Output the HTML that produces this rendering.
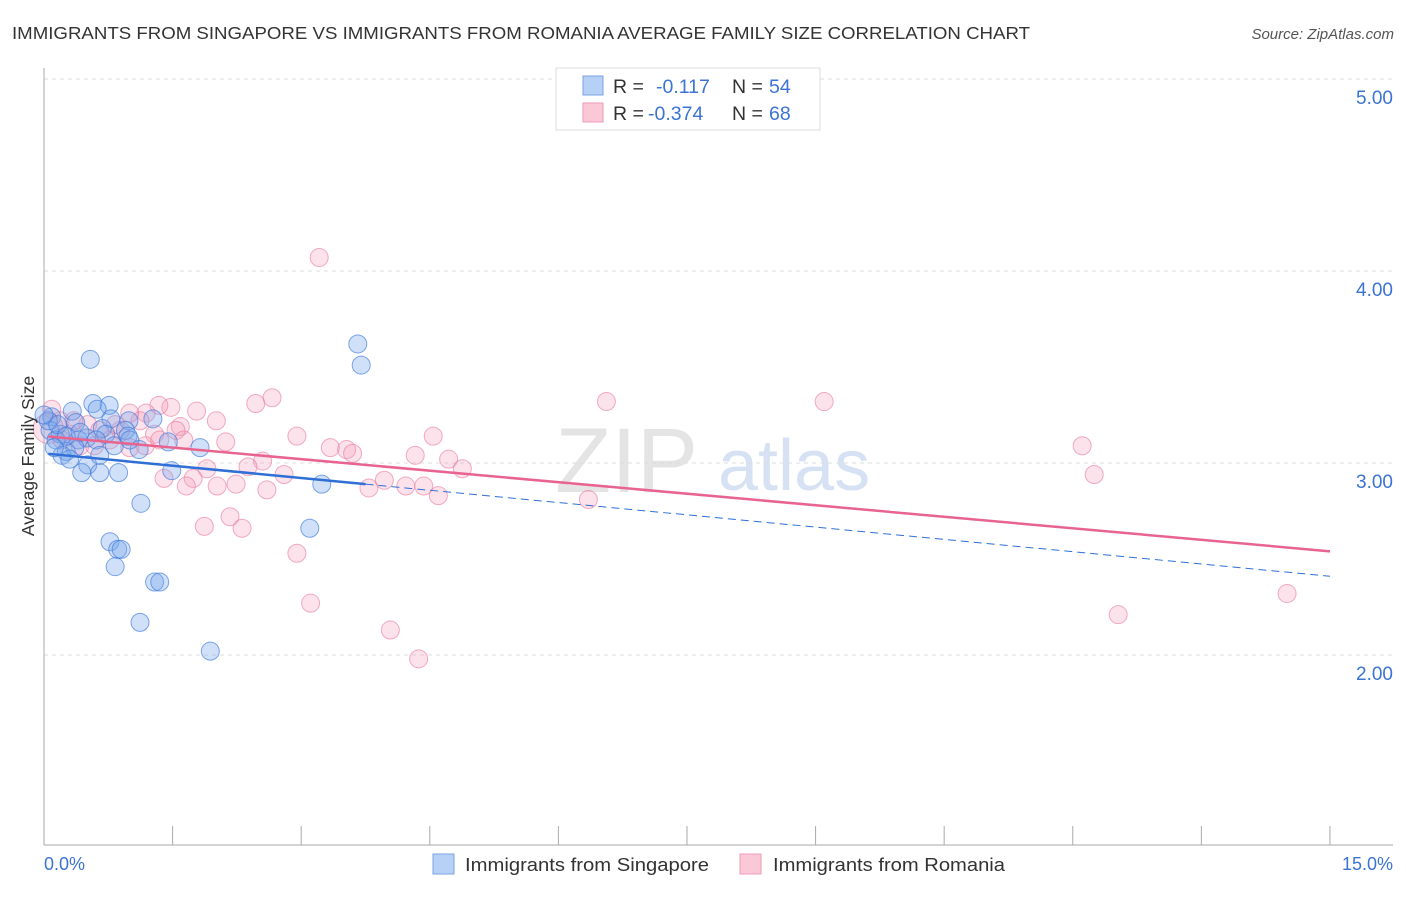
<!DOCTYPE html>
<html><head><meta charset="utf-8"><style>
body{margin:0;background:#fff;font-family:"Liberation Sans",sans-serif;}
svg text{font-family:"Liberation Sans",sans-serif;}
</style></head><body>
<svg id="chart" width="1406" height="892" xmlns="http://www.w3.org/2000/svg">
<text x="12" y="39" font-size="17.5" fill="#333" textLength="1018" lengthAdjust="spacingAndGlyphs">IMMIGRANTS FROM SINGAPORE VS IMMIGRANTS FROM ROMANIA AVERAGE FAMILY SIZE CORRELATION CHART</text>
<text x="1394" y="39" font-size="15" fill="#555" font-style="italic" text-anchor="end">Source: ZipAtlas.com</text>
<text x="555" y="492" font-size="92" fill="#e4e4e4" font-family="Liberation Serif">ZIP</text>
<text x="718" y="490" font-size="72" fill="#d6e2f3">atlas</text>
<g id="grid"></g>
<g id="axes"></g>
<g id="pts"></g>
<g id="lines"></g>
<text transform="translate(34,456) rotate(-90)" font-size="17.5" fill="#333" text-anchor="middle">Average Family Size</text>
<g>
<rect x="556" y="68" width="264" height="62" fill="#fff" stroke="#ddd"/>
<rect x="583" y="76" width="20" height="19" fill="#b7d0f5" stroke="#7aa3e6"/>
<text x="613" y="93" font-size="19.5" fill="#333">R = </text><text x="656" y="93" font-size="19.5" fill="#3b74d4">-0.117</text>
<text x="732" y="93" font-size="19.5" fill="#333">N = </text><text x="769" y="93" font-size="19.5" fill="#3b74d4">54</text>
<rect x="583" y="103" width="20" height="19" fill="#fbc8d7" stroke="#ef9ab5"/>
<text x="613" y="120" font-size="19.5" fill="#333">R = </text><text x="648" y="120" font-size="19.5" fill="#3b74d4">-0.374</text>
<text x="732" y="120" font-size="19.5" fill="#333">N = </text><text x="769" y="120" font-size="19.5" fill="#3b74d4">68</text>
</g>
<g>
<rect x="433" y="854" width="21" height="20" fill="#b7d0f5" stroke="#7aa3e6"/>
<text x="465" y="871" font-size="18.5" fill="#333" textLength="244" lengthAdjust="spacingAndGlyphs">Immigrants from Singapore</text>
<rect x="740" y="854" width="21" height="20" fill="#fbc8d7" stroke="#ef9ab5"/>
<text x="773" y="871" font-size="18.5" fill="#333" textLength="232" lengthAdjust="spacingAndGlyphs">Immigrants from Romania</text>
</g>
</svg>
<script>
const yTicks=[2,3,4,5];
const yTickLabels=["2.00","3.00","4.00","5.00"];
const xTicks=[0,1.5,3,4.5,6,7.5,9,10.5,12,13.5,15];
const xEndLabels=["0.0%","15.0%"];
const blueX=[0.54,3.66,3.70,0.57,0.76,0.62,0.33,0.78,1.27,0.99,0.37,0.09,0.07,0.19,0.95,0.68,0.40,0.50,1.45,1.82,1.11,0.26,0.36,0.21,0.30,0.51,0.44,0.65,0.87,1.49,3.24,1.13,3.10,0.77,0.86,0.90,0.83,1.29,1.35,1.12,1.94,0.14,0.05,0.72,0.61,0.16,0.26,0.42,0.82,0.98,0.12,0.0,0.65,1.0];
const blueY=[3.54,3.62,3.51,3.31,3.30,3.28,3.27,3.23,3.23,3.22,3.21,3.24,3.17,3.15,3.17,3.18,3.12,3.13,3.11,3.08,3.07,3.06,3.08,3.04,3.02,2.99,2.95,2.95,2.95,2.96,2.89,2.79,2.66,2.59,2.55,2.55,2.46,2.38,2.38,2.17,2.02,3.12,3.22,3.15,3.12,3.20,3.14,3.16,3.09,3.14,3.08,3.25,3.04,3.12];
const pinkX=[3.21,6.56,9.10,2.66,2.47,1.48,1.34,1.78,1.19,2.01,1.59,1.54,0.19,0.51,0.09,2.95,4.54,2.12,3.34,3.53,3.60,4.33,4.72,4.88,2.55,2.38,1.90,2.80,1.40,1.74,1.66,2.02,2.24,2.60,3.79,3.97,4.22,4.43,4.60,6.35,12.11,12.25,1.87,2.17,2.31,2.95,3.11,4.04,4.37,12.53,14.50,0.89,1.00,0.77,0.65,0.30,0.42,1.12,1.29,1.00,0.59,0.21,1.18,0.83,0.35,1.35,1.63,0.05];
const pinkY=[4.07,3.32,3.32,3.34,3.31,3.29,3.30,3.27,3.26,3.22,3.19,3.17,3.22,3.20,3.28,3.14,3.14,3.11,3.08,3.07,3.05,3.04,3.02,2.97,3.01,2.98,2.97,2.94,2.92,2.92,2.88,2.88,2.89,2.86,2.87,2.91,2.88,2.88,2.83,2.81,3.09,2.94,2.67,2.72,2.66,2.53,2.27,2.13,1.98,2.21,2.32,3.17,3.08,3.12,3.17,3.15,3.09,3.22,3.15,3.26,3.09,3.12,3.09,3.20,3.22,3.12,3.12,3.18];
const blueTrend=[3.05,2.41];
const pinkTrend=[3.14,2.54];
const blueSolidEnd=3.75;

const NS="http://www.w3.org/2000/svg";
const X=v=>44+v*85.73;
const Y=v=>463-(v-3)*192;
function mk(tag,attrs,parent){const e=document.createElementNS(NS,tag);for(const k in attrs)e.setAttribute(k,attrs[k]);parent.appendChild(e);return e;}
const grid=document.getElementById('grid'),axes=document.getElementById('axes'),pts=document.getElementById('pts'),lines=document.getElementById('lines');
mk('line',{x1:44,y1:79,x2:1393,y2:79,stroke:'#ddd','stroke-dasharray':'4,4'},grid);
yTicks.forEach((t,i)=>{
 const g=mk('line',{x1:44,y1:Y(t),x2:1393,y2:Y(t),stroke:'#ddd','stroke-dasharray':'4,4'},grid);
 
 
 const l=mk('text',{x:1393,y:Y(t)+25,'font-size':19,fill:'#3b74d4','text-anchor':'end'},axes);
 l.textContent=yTickLabels[i];
 
 
});
const ax=mk('line',{x1:44,y1:68,x2:44,y2:845,stroke:'#aaa'},axes);


const bx=mk('line',{x1:44,y1:845,x2:1393,y2:845,stroke:'#aaa'},axes);


xTicks.forEach(t=>{
 const k=mk('line',{x1:X(t),y1:826,x2:X(t),y2:845,stroke:'#aaa'},axes);
 
 
});
const xl0=mk('text',{x:44,y:870,'font-size':18,fill:'#3b74d4'},axes);xl0.textContent=xEndLabels[0];


const xl1=mk('text',{x:1393,y:870,'font-size':18,fill:'#3b74d4','text-anchor':'end'},axes);xl1.textContent=xEndLabels[1];


pinkX.forEach((v,i)=>{
 const c=mk('circle',{cx:X(v),cy:Y(pinkY[i]),r:i===pinkX.length-1?15:9,fill:'rgba(244,160,188,0.3)',stroke:'rgba(232,120,155,0.6)','stroke-width':1},pts);
 
 
});
blueX.forEach((v,i)=>{
 const c=mk('circle',{cx:X(v),cy:Y(blueY[i]),r:9,fill:'rgba(120,165,235,0.35)',stroke:'rgba(60,120,220,0.65)','stroke-width':1},pts);
 
 
});
const by=v=>blueTrend[0]+(blueTrend[1]-blueTrend[0])*v/15;
const py=v=>pinkTrend[0]+(pinkTrend[1]-pinkTrend[0])*v/15;
const pl=mk('line',{x1:X(0.05),y1:Y(py(0.05)),x2:X(15),y2:Y(py(15)),stroke:'#e8648f','stroke-width':2.5},lines);


const bl=mk('line',{x1:X(0.05),y1:Y(by(0.05)),x2:X(blueSolidEnd),y2:Y(by(blueSolidEnd)),stroke:'#2f6fd6','stroke-width':2.5},lines);


const bd=mk('line',{x1:X(blueSolidEnd),y1:Y(by(blueSolidEnd)),x2:X(15),y2:Y(by(15)),stroke:'#2f6fd6','stroke-width':1,'stroke-dasharray':'8,5'},lines);


</script>
</body></html>
